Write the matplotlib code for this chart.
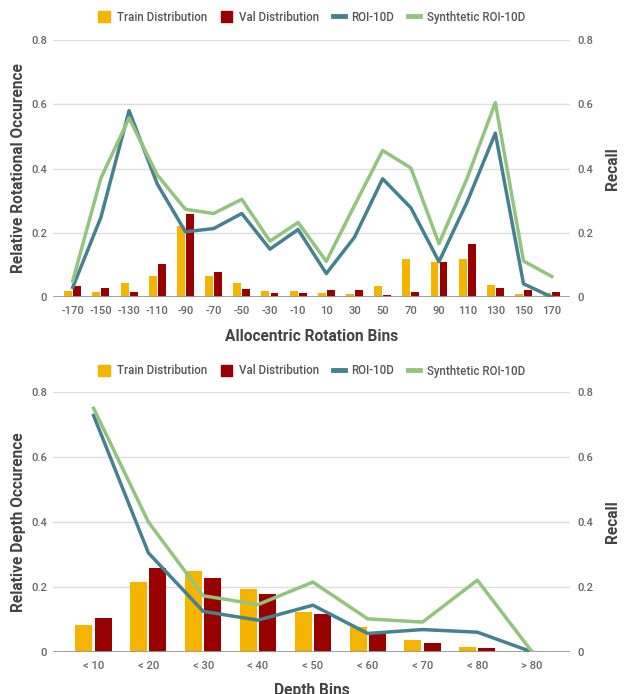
import numpy as np
import matplotlib.pyplot as plt
from matplotlib.lines import Line2D
from matplotlib.patches import Patch

plt.rcParams['font.family'] = ['Roboto', 'DejaVu Sans']

# Top chart: allocentric rotation
rot_bins = ['-170', '-150', '-130', '-110', '-90', '-70', '-50', '-30', '-10',
            '10', '30', '50', '70', '90', '110', '130', '150', '170']
rot_train = [0.020, 0.017, 0.043, 0.064, 0.220, 0.064, 0.044, 0.020, 0.020,
             0.013, 0.010, 0.034, 0.118, 0.108, 0.118, 0.036, 0.010, 0.012]
rot_val = [0.033, 0.028, 0.017, 0.103, 0.257, 0.078, 0.026, 0.013, 0.013,
           0.023, 0.023, 0.005, 0.017, 0.108, 0.165, 0.028, 0.023, 0.017]
rot_roi = [0.030, 0.248, 0.580, 0.352, 0.203, 0.213, 0.260, 0.149, 0.210,
           0.073, 0.186, 0.368, 0.278, 0.110, 0.296, 0.510, 0.041, 0.000]
rot_syn = [0.050, 0.370, 0.557, 0.380, 0.273, 0.260, 0.304, 0.174, 0.232,
           0.111, 0.285, 0.456, 0.402, 0.166, 0.370, 0.605, 0.112, 0.064]

# Bottom chart: depth
depth_bins = ['< 10', '< 20', '< 30', '< 40', '< 50', '< 60', '< 70', '< 80', '> 80']
depth_train = [0.082, 0.216, 0.249, 0.193, 0.122, 0.078, 0.038, 0.016, 0.0]
depth_val = [0.105, 0.260, 0.229, 0.180, 0.118, 0.062, 0.027, 0.011, 0.0]
depth_roi = [0.728, 0.305, 0.125, 0.098, 0.144, 0.057, 0.069, 0.061, 0.0]
depth_syn = [0.750, 0.400, 0.173, 0.146, 0.215, 0.102, 0.092, 0.221, 0.0]

C_TRAIN = '#f4b400'
C_VAL = '#990000'
C_ROI = '#45818e'
C_SYN = '#93c47d'
TICK_C = '#666666'
TITLE_C = '#444444'

W, H = 624, 694
fig = plt.figure(figsize=(W / 100, H / 100), dpi=100)


def px_axes(x0, y0, x1, y1):
    return fig.add_axes([x0 / W, 1 - y1 / H, (x1 - x0) / W, (y1 - y0) / H])


def draw_panel(ax, cats, train, val, roi, syn, bar_w, xlim, ylabel, xlabel,
               xlabel_y, left_x, right_x, leg_y):
    x = np.arange(len(cats))
    ax.bar(x - bar_w / 2 - 0.02, train, bar_w, color=C_TRAIN, zorder=2)
    ax.bar(x + bar_w / 2 + 0.02, val, bar_w, color=C_VAL, zorder=2)
    ax.set_xlim(*xlim)
    ax.set_ylim(0, 0.8)
    ticks = [0, 0.2, 0.4, 0.6, 0.8]
    labels = ['0', '0.2', '0.4', '0.6', '0.8']
    ax.set_yticks(ticks, labels)
    ax.set_xticks(x, cats)
    for s in ax.spines.values():
        s.set_visible(False)
    ax.grid(axis='y', color='#dddddd', linewidth=1.0, zorder=0)
    ax.axhline(0, color='#999999', linewidth=1.3, zorder=3)
    ax.tick_params(axis='both', length=0, labelsize=8, labelcolor=TICK_C)
    ax.tick_params(axis='x', pad=6.5)
    ax.tick_params(axis='y', pad=4.5)
    for t in ax.get_xticklabels() + ax.get_yticklabels():
        t.set_fontweight('medium')
    ax.set_ylabel(ylabel, fontsize=11.2, fontweight='bold', color=TITLE_C)
    ax.yaxis.set_label_coords(left_x, 0.5)
    ax.yaxis.label.set_va('center')
    ax.set_xlabel(xlabel, fontsize=11.2, fontweight='bold', color=TITLE_C)
    ax.xaxis.set_label_coords(0.5, xlabel_y)
    ax.xaxis.label.set_va('center')

    ax2 = ax.twinx()
    ax2.set_ylim(0, 0.8)
    ax2.set_yticks(ticks, labels)
    for s in ax2.spines.values():
        s.set_visible(False)
    ax2.tick_params(axis='y', length=0, labelsize=8, labelcolor=TICK_C, pad=5)
    for t in ax2.get_yticklabels():
        t.set_fontweight('medium')
    ax2.plot(x, roi, color=C_ROI, linewidth=2.5, zorder=4)
    ax2.plot(x, syn, color=C_SYN, linewidth=2.5, zorder=4)
    ax2.set_ylabel('Recall', fontsize=11.2, fontweight='bold', color=TITLE_C)
    ax2.yaxis.set_label_coords(right_x, 0.5)
    ax2.yaxis.label.set_va('center')

    handles = [Patch(color=C_TRAIN), Patch(color=C_VAL),
               Line2D([], [], color=C_ROI, linewidth=3.5),
               Line2D([], [], color=C_SYN, linewidth=3.5)]
    names = ['Train Distribution', 'Val Distribution', 'ROI-10D', 'Synthtetic ROI-10D']
    leg = ax.legend(handles, names, loc='center', bbox_to_anchor=(0.5, leg_y),
                    ncol=4, frameon=False, fontsize=8.3, handlelength=1.0,
                    handleheight=1.0, handletextpad=0.6, columnspacing=1.2,
                    borderpad=0.0)
    for t in leg.get_texts():
        t.set_color('#555555')
        t.set_fontweight('medium')
    return ax2


# top panel: plot area 53..570 x 40..297 px
ax_top = px_axes(53, 40, 570, 297)
draw_panel(ax_top, rot_bins, rot_train, rot_val, rot_roi, rot_syn, 0.28,
           (-0.7, 17.65), 'Relative Rotational Occurence', 'Allocentric Rotation Bins',
           -39 / 257, -34.5 / 517, 559 / 517, 1 + 23 / 257)

# bottom panel: plot area 53..570 x 392..652 px
ax_bot = px_axes(53, 392, 570, 652)
draw_panel(ax_bot, depth_bins, depth_train, depth_val, depth_roi, depth_syn, 0.31,
           (-0.74, 8.69), 'Relative Depth Occurence', 'Depth Bins',
           -38 / 260, -34.5 / 517, 559 / 517, 1 + 21 / 260)

fig.savefig('out.png', dpi=100)
